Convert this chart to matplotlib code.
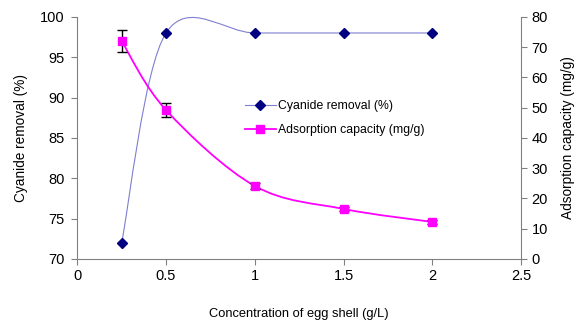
import matplotlib
import numpy as np

matplotlib.use("Agg")
import matplotlib.pyplot as plt
from matplotlib.path import Path
from matplotlib.patches import PathPatch
from matplotlib.lines import Line2D

# Daten
konzentration = [0.25, 0.5, 1.0, 1.5, 2.0]
cyanid_entfernung = [72.0, 98.0, 98.0, 98.0, 98.0]
adsorption = [72.0, 49.2, 24.1, 16.5, 12.2]
adsorption_fehler = [3.7, 2.4, 1.0, 0.8, 0.8]


def glatte_kurve(x, y):
    """Excel-artige geglaettete Linie als Bezier-Pfad (Catmull-Rom)."""
    p = np.column_stack([x, y]).astype(float)
    verts = [p[0]]
    codes = [Path.MOVETO]
    for i in range(len(p) - 1):
        p0 = p[i - 1] if i > 0 else p[i]
        p3 = p[i + 2] if i + 2 < len(p) else p[i + 1]
        c1 = p[i] + (p[i + 1] - p0) / 6.0
        c2 = p[i + 1] - (p3 - p[i]) / 6.0
        verts += [c1, c2, p[i + 1]]
        codes += [Path.CURVE4] * 3
    return Path(verts, codes)


plt.rcParams["font.family"] = ["Liberation Sans", "DejaVu Sans"]
grau = "#808080"

fig = plt.figure(figsize=(5.76, 3.24), dpi=100)
ax = fig.add_axes([0.134, 0.201, 0.771, 0.747])
ax2 = ax.twinx()

blau_linie = "#7f7fd0"
blau_marker = "#000080"
pink = "#ff00ff"

ax.add_patch(PathPatch(glatte_kurve(konzentration, cyanid_entfernung), facecolor="none",
                       edgecolor=blau_linie, lw=0.8, clip_on=False))
ax.plot(konzentration, cyanid_entfernung, ls="none", marker="D", ms=5.5, color=blau_marker,
        clip_on=False, zorder=3)

ax2.add_patch(PathPatch(glatte_kurve(konzentration, adsorption), facecolor="none",
                        edgecolor=pink, lw=1.3))
ax2.errorbar(konzentration, adsorption, yerr=adsorption_fehler, fmt="none", ecolor="black",
             elinewidth=1.0, capsize=3.5, capthick=1.0, zorder=2)
ax2.plot(konzentration, adsorption, ls="none", marker="s", ms=6, color=pink, zorder=3)

ax.set_xlim(0, 2.5)
ax.set_ylim(70, 100)
ax2.set_ylim(0, 80)
ax.set_xticks(np.arange(0, 2.51, 0.5))
ax.set_xticklabels(["0", "0.5", "1", "1.5", "2", "2.5"])
ax.set_yticks(np.arange(70, 101, 5))
ax2.set_yticks(np.arange(0, 81, 10))

for a in (ax, ax2):
    a.spines["top"].set_visible(False)
    for s in ("left", "right", "bottom"):
        a.spines[s].set_color(grau)
    a.tick_params(colors=grau, labelcolor="black", labelsize=10.5, length=4, width=0.8)
ax.tick_params(axis="y", pad=5)
ax.spines["right"].set_visible(False)
ax2.spines["left"].set_visible(False)
ax2.spines["bottom"].set_visible(False)

ax.set_xlabel("Concentration of egg shell (g/L)", fontsize=9.3, labelpad=18)
ax.set_ylabel("Cyanide removal (%)", fontsize=9.8, labelpad=9)
ax2.set_ylabel("Adsorption capacity (mg/g)", fontsize=9.8, labelpad=9)

griffe = [Line2D([], [], color=blau_linie, lw=0.8, marker="D", ms=5, mfc=blau_marker, mec=blau_marker),
          Line2D([], [], color=pink, lw=1.3, marker="s", ms=5.5)]
ax.legend(griffe, ["Cyanide removal (%)", "Adsorption capacity (mg/g)"], frameon=False,
          fontsize=8.8, loc="upper left", bbox_to_anchor=(0.352, 0.70), handlelength=2.6,
          handletextpad=0.15, labelspacing=0.95)

fig.savefig("out.png", dpi=100)
